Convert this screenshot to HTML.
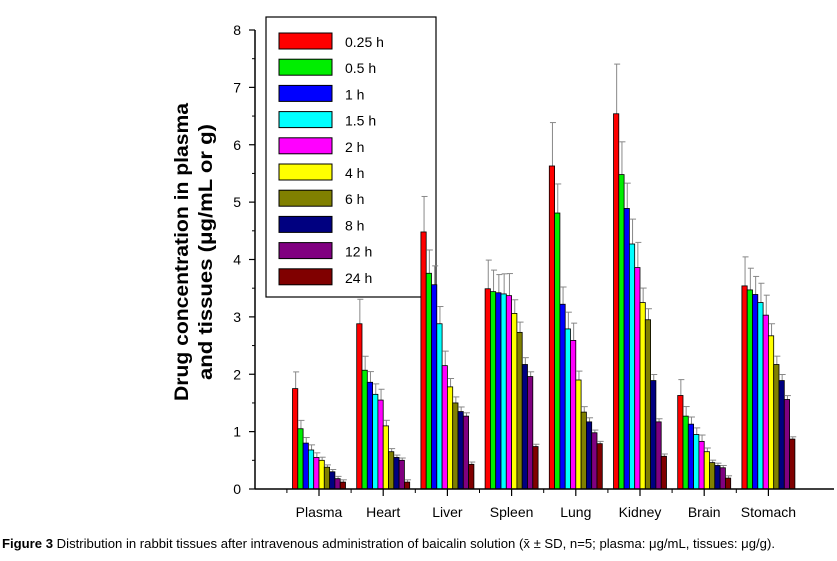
<!DOCTYPE html>
<html><head><meta charset="utf-8"><style>
body{margin:0;background:#fff;width:837px;height:556px;overflow:hidden;font-family:"Liberation Sans",Arial,sans-serif}
</style></head><body>
<svg id="chart" width="837" height="556" xmlns="http://www.w3.org/2000/svg" font-family="Liberation Sans, Arial, sans-serif">
<g id="legend"></g>
<g id="bars"></g>
<g id="axes"></g>
<text transform="translate(188,252) rotate(-90)" text-anchor="middle" font-weight="bold" font-size="19"><tspan x="0" dy="0" textLength="298" lengthAdjust="spacingAndGlyphs">Drug concentration in plasma</tspan><tspan x="0" dy="24" textLength="256" lengthAdjust="spacingAndGlyphs">and tissues (μg/mL or g)</tspan></text>
<text x="2" y="548" font-size="12.5" textLength="773" lengthAdjust="spacingAndGlyphs"><tspan font-weight="bold">Figure 3</tspan> Distribution in rabbit tissues after intravenous administration of baicalin solution (x̄ ± SD, n=5; plasma: μg/mL, tissues: μg/g).</text>
</svg>
<script>
const categories=["Plasma","Heart","Liver","Spleen","Lung","Kidney","Brain","Stomach"];
const seriesNames=["0.25 h","0.5 h","1 h","1.5 h","2 h","4 h","6 h","8 h","12 h","24 h"];
const colors=["#ff0000","#00ee00","#0000ff","#00ffff","#ff00ff","#ffff00","#808000","#000080","#800080","#800000"];
const plasma=[1.75,1.05,0.8,0.68,0.55,0.5,0.38,0.3,0.18,0.12];
const heart=[2.88,2.07,1.86,1.65,1.55,1.1,0.65,0.55,0.5,0.12];
const liver=[4.48,3.76,3.56,2.88,2.15,1.78,1.5,1.35,1.27,0.43];
const spleen=[3.49,3.44,3.42,3.40,3.37,3.06,2.73,2.17,1.96,0.74];
const lung=[5.63,4.81,3.22,2.79,2.59,1.9,1.34,1.17,0.98,0.79];
const kidney=[6.54,5.48,4.89,4.27,3.86,3.25,2.95,1.89,1.17,0.57];
const brain=[1.63,1.27,1.13,0.95,0.83,0.65,0.46,0.41,0.37,0.19];
const stomach=[3.54,3.47,3.39,3.25,3.03,2.67,2.17,1.89,1.56,0.87];
const errs=[0.27,0.15,0.1,0.08,0.07,0.06,0.05,0.05,0.04,0.03];
const errScale=[1,0.8,0.7,0.8,0.9,0.6,0.5,0.4,0.3,0.1];
const yTicks=[0,1,2,3,4,5,6,7,8];
const data=[plasma,heart,liver,spleen,lung,kidney,brain,stomach];
const NS="http://www.w3.org/2000/svg";
const y=v=>489-v*57.375;
const cx=i=>319+i*64.2;
const bw=5.3;
function mk(t,a,p){const e=document.createElementNS(NS,t);for(const k in a)e.setAttribute(k,a[k]);p.appendChild(e);return e;}
const bars=document.getElementById('bars');
data.forEach((vals,ci)=>{vals.forEach((v,si)=>{
 const x=cx(ci)-26.5+si*bw;
 const err=Math.max(0.04,v*0.12*errScale[si]+errs[si]*0.3);
 const l=mk('line',{x1:x+bw/2+0.5,x2:x+bw/2+0.5,y1:y(v),y2:y(v+err),stroke:'#888','stroke-width':1},bars);
 
 
 const c=mk('line',{x1:x+bw/2-2,x2:x+bw/2+4,y1:y(v+err),y2:y(v+err),stroke:'#888','stroke-width':1},bars);
 
 
 const r=mk('rect',{x:x,y:y(v),width:bw,height:489-y(v),fill:colors[si],stroke:'#000','stroke-width':0.8},bars);
 
 
});});
const ax=document.getElementById('axes');
mk('line',{x1:255,x2:834,y1:489,y2:489,stroke:'#000','stroke-width':1.5},ax);
mk('line',{x1:255,x2:255,y1:30,y2:489,stroke:'#000','stroke-width':1.5},ax);
yTicks.forEach(t=>{
 mk('line',{x1:249,x2:255,y1:y(t),y2:y(t),stroke:'#000','stroke-width':1.2},ax);
 if(t<8)mk('line',{x1:252,x2:255,y1:y(t+0.5),y2:y(t+0.5),stroke:'#000','stroke-width':1},ax);
 const tx=mk('text',{x:241,y:y(t)+5,'text-anchor':'end','font-size':14},ax);tx.textContent=t;
 
 
});
categories.forEach((c,i)=>{
 mk('line',{x1:cx(i),x2:cx(i),y1:489,y2:496,stroke:'#000','stroke-width':1.2},ax);
 mk('line',{x1:cx(i)-32.1,x2:cx(i)-32.1,y1:489,y2:493,stroke:'#000','stroke-width':1},ax);
 const tx=mk('text',{x:cx(i),y:517,'text-anchor':'middle','font-size':14},ax);tx.textContent=c;
 
 
});
const lg=document.getElementById('legend');
mk('rect',{x:266,y:17,width:170,height:280,fill:'#fff',stroke:'#000','stroke-width':1.2},lg);
seriesNames.forEach((n,i)=>{
 const yy=33+i*26.2;
 const s=mk('rect',{x:279,y:yy,width:53,height:16,fill:colors[i],stroke:'#000','stroke-width':1},lg);
 
 
 const t=mk('text',{x:345,y:yy+14,'font-size':14},lg);t.textContent=n;
 
 
});
</script>
</body></html>
